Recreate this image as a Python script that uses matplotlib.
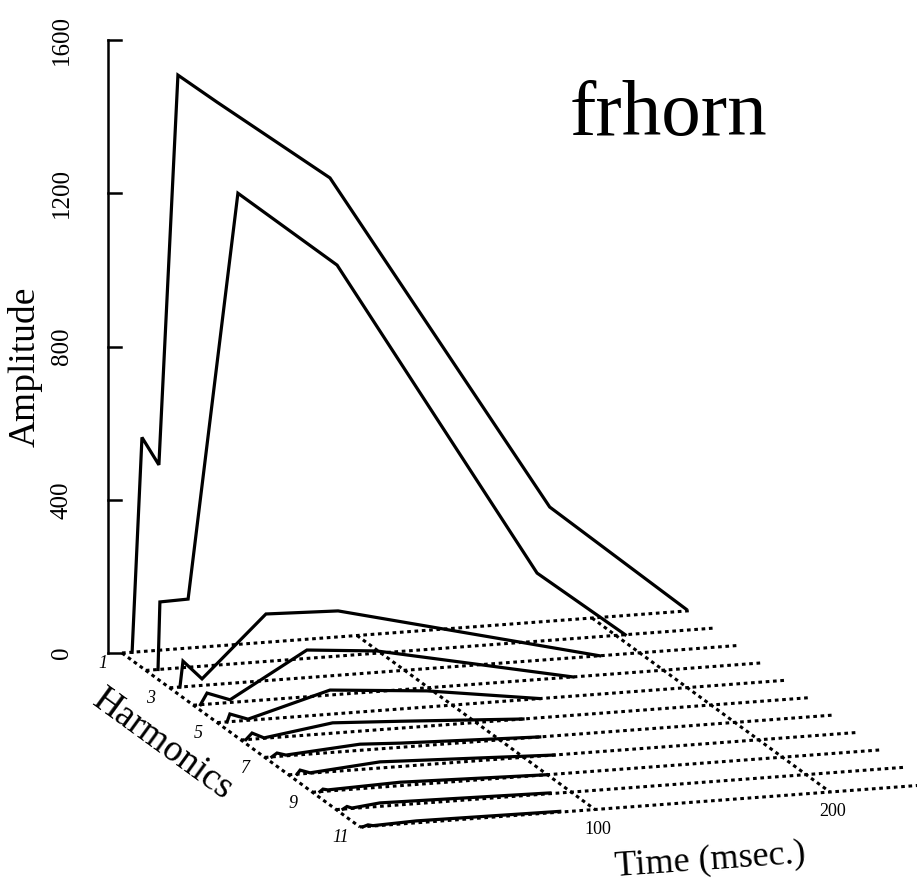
import matplotlib
matplotlib.use("Agg")
import matplotlib.pyplot as plt

# ---- data: harmonic amplitude envelopes (time in ms, amplitude) ----
harmonics = [1, 2, 3, 4, 5, 6, 7, 8, 9, 10, 11]

h1_t = [4.3, 8.5, 15.7, 23.8, 40.4, 88.5, 182, 240]
h1_a = [0, 559, 484, 1498, 1420, 1200, 298, 5]

h2_t = [5.2, 6.0, 18.0, 39.2, 81.4, 166.5, 204]
h2_a = [0, 176, 178, 1228, 1021, 178, 0]

h3_t = [4.4, 5.7, 13.8, 41.0, 71.7, 183]
h3_a = [0, 67, 17, 174, 168, 0]

h4_t = [3.0, 5.8, 15.6, 48.3, 78.0, 161.5]
h4_a = [0, 29, 7, 122, 106, 0]

h5_t = [4.2, 5.4, 13.1, 48.0, 89.3, 137.3]
h5_a = [0, 20, 3, 63, 42, 0]

h6_t = [2.1, 4.7, 9.8, 39.0, 67.7, 120]
h6_a = [0, 16, 1, 27, 18, 0]

h7_t = [3.0, 5.2, 9.0, 40.5, 57.5, 117]
h7_a = [0, 9, 2, 16, 11, 0]

h8_t = [3.6, 4.9, 9.1, 38.9, 113]
h8_a = [0, 10, 1, 16, 0]

h9_t = [3.2, 4.5, 6.6, 37.3, 100]
h9_a = [0, 6, 3, 9, 0]

h10_t = [2.9, 4.6, 6.7, 18.6, 91]
h10_a = [0, 6, 1, 9, 2]

h11_t = [1.3, 3.4, 5.5, 24.0, 85]
h11_a = [0, 4, 1, 5, 2]

series_t = [h1_t, h2_t, h3_t, h4_t, h5_t, h6_t, h7_t, h8_t, h9_t, h10_t, h11_t]
series_a = [h1_a, h2_a, h3_a, h4_a, h5_a, h6_a, h7_a, h8_a, h9_a, h10_a, h11_a]

amp_ticks = [0, 400, 800, 1200, 1600]
time_ticks = [100, 200]
harmonic_labels = [1, 3, 5, 7, 9, 11]
time_span = 242

# ---- oblique projection (time, harmonic, amplitude) -> canvas units ----
ORIGIN = (122.0, 653.0)
T_VEC = (2.35, -0.175)
H_VEC = (23.8, 17.4)
A_VEC = (0.0, -0.383)


def proj(t, h, a):
    x = ORIGIN[0] + T_VEC[0] * t + H_VEC[0] * (h - 1) + A_VEC[0] * a
    y = ORIGIN[1] + T_VEC[1] * t + H_VEC[1] * (h - 1) + A_VEC[1] * a
    return x, y


def proj_list(ts, h, amps):
    pts = [proj(t, h, a) for t, a in zip(ts, amps)]
    return [p[0] for p in pts], [p[1] for p in pts]


W, H = 917, 886
fig = plt.figure(figsize=(W / 100, H / 100), dpi=100)
ax = fig.add_axes([0, 0, 1, 1])
ax.set_xlim(0, W)
ax.set_ylim(H, 0)
ax.axis("off")

serif = ["Liberation Serif", "DejaVu Serif"]
dot_style = dict(color="black", lw=2.2, linestyle=(0, (1.2, 1.2)),
                 dash_capstyle="butt")
solid_style = dict(color="black", lw=2.3, solid_joinstyle="miter")

# baselines for each harmonic
for h in harmonics:
    xs, ys = proj_list([0, time_span], h, [0, 0])
    ax.plot(xs, ys, **dot_style)

# harmonic axis and time grid lines across harmonics
for t in [0] + time_ticks:
    xs, ys = proj_list([t, t], 1, [0, 0])
    x2, y2 = proj(t, harmonics[-1], 0)
    ax.plot([xs[0], x2], [ys[0], y2], **dot_style)

# envelopes
for h, ts, amps in zip(harmonics, series_t, series_a):
    xs, ys = proj_list(ts, h, amps)
    ax.plot(xs, ys, **solid_style)

# amplitude axis
axis_x = ORIGIN[0] - 14
x0, y_lo = proj(0, 1, amp_ticks[0])
_, y_hi = proj(0, 1, amp_ticks[-1])
ax.plot([axis_x, axis_x], [y_lo, y_hi], color="black", lw=1.8)
for v in amp_ticks:
    _, y = proj(0, 1, v)
    ax.plot([axis_x, axis_x + 13], [y, y], color="black", lw=1.8)
    ax.text(62, y, str(v), rotation=90, ha="center", va="center",
            fontsize=18, family=serif)

ax.text(25, 367, "Amplitude", rotation=90, ha="center", va="center",
        fontsize=27, family=serif)

# harmonic labels
for h in harmonic_labels:
    x, y = proj(0, h, 0)
    ax.text(x - 19, y + 11, str(h), ha="center", va="center",
            fontsize=13, style="italic", family=serif)

ax.text(163, 745, "Harmonics", rotation=-36, rotation_mode="anchor",
        ha="center", va="center", fontsize=27, family=serif)

# time tick labels
for t in time_ticks:
    x, y = proj(t, harmonics[-1], 0)
    ax.text(x + 3, y + 20, str(t), ha="center", va="center",
            fontsize=13, family=serif)

ax.text(710, 860, "Time (msec.)", rotation=4, rotation_mode="anchor",
        ha="center", va="center", fontsize=26, family=serif)

ax.text(668, 135, "frhorn", ha="center", va="baseline",
        fontsize=57, family=serif)

fig.savefig("out.png", dpi=100, facecolor="white")
